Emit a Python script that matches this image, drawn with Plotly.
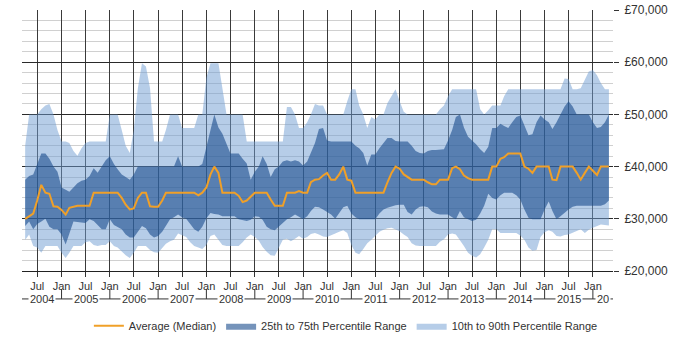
import pandas as pd
import plotly.graph_objects as go

# ---------------- data (values in £ thousands), monthly Apr 2004 .. May 2016
months = pd.date_range("2004-04-01", "2016-05-01", freq="MS")

median_k = [
    30.0, 30.5, 31.0, 33.5, 36.5, 35.0, 34.8, 32.4, 32.3, 31.7, 30.8, 32.1,
    32.3, 32.5, 32.5, 32.5, 32.5, 35, 35, 35, 35, 35, 35, 35,
    34, 32.7, 31.8, 32, 34, 35, 35, 32.4, 32.3, 32.3, 33.5, 35,
    35, 35, 35, 35, 35, 35, 35, 34.5, 35, 36, 38.5, 40,
    38.8, 35, 35, 35, 35, 34.4, 33.2, 33.5, 34.2, 35, 35, 35,
    35, 33.7, 32.5, 32.5, 32.5, 35, 35, 35, 35.3, 35, 35, 37,
    37.5, 37.6, 38.3, 38.8, 37.5, 37.5, 38.5, 40, 37.5, 37.3, 35, 35,
    35, 35, 35, 35, 35, 35, 37, 38.8, 40, 39.6, 38.5, 38,
    37.5, 37.5, 37.5, 37.5, 37, 36.6, 36.6, 37.5, 37.5, 37.5, 39.7, 40,
    39.5, 38.3, 37.8, 37.5, 37.5, 37.5, 37.5, 37.5, 40, 40, 41.5, 41.8,
    42.5, 42.5, 42.5, 42.5, 40, 39.6, 38.8, 40, 40, 40, 40, 37.5,
    37.4, 40, 40, 40, 40, 38.8, 37.5, 38.8, 40, 39.2, 38.4, 40,
    40, 40,
]

p90_k = [
    44, 50, 50, 50, 51, 51.7, 52, 50, 47, 44.8, 44.8, 44.5,
    43, 42.1, 43.5, 44.5, 44.8, 44.8, 44.8, 44.8, 44.8, 50, 50, 50,
    47, 44, 42.6, 47, 55, 59.8, 59.2, 55, 44.8, 44.8, 44.8, 47,
    50, 50, 50, 47.4, 47.4, 47.4, 47.4, 50, 50, 57, 59.8, 59.8,
    59.8, 55, 50, 50, 50, 50, 50, 44.8, 44.8, 44.8, 44.8, 44.8,
    44.8, 44.8, 44.8, 44.8, 44.8, 51.4, 51.4, 50, 47.4, 47.4, 48.5, 50,
    52, 51.7, 51.7, 50, 50, 50, 50, 50, 52.5, 54.8, 54.8, 51.7,
    50, 47.4, 49.5, 49, 50, 50, 52.2, 53.5, 54.8, 52.5, 50.5, 50,
    50, 50, 50, 50, 50, 50, 50, 51, 51.7, 53.5, 54.8, 54.8,
    54.8, 54.8, 54.8, 54.8, 54.8, 51, 50, 50.8, 51.7, 51.7, 51.7, 53.5,
    54.8, 54.8, 54.8, 54.8, 54.8, 54.8, 54.8, 54.8, 54.8, 54.8, 54.8, 54.8,
    54.8, 54.8, 56.9, 56.8, 54.8, 54.8, 55, 56.8, 58.2, 58.5, 57.5, 56,
    54.8, 54.8,
]

p75_k = [
    37.5, 38.2, 38.5, 40.5, 42.5, 42.5, 41.5, 40, 39, 36, 35.6, 35.2,
    36, 36.8, 37.3, 37.5, 38.2, 39.7, 38.8, 40, 41.2, 42, 40.5, 39.5,
    38.5, 38, 37.5, 38.5, 40, 40, 40, 40, 40, 40, 40, 40,
    40, 40, 42, 40, 40, 40, 40, 40, 40.5, 43.5, 47, 50,
    47.5, 46.3, 44.3, 42.5, 42.5, 42.5, 41.5, 40.6, 37.5, 39, 40, 42,
    40.5, 38, 39.5, 40, 41, 41.2, 41, 41.2, 41, 40.2, 41, 42.6,
    44.5, 47.2, 47.4, 45, 44.8, 44.8, 44.8, 44.8, 44.8, 44.8, 44, 43.5,
    42.6, 40.2, 42.3, 42.3, 43.5, 44.5, 45.5, 45.5, 44.9, 44.8, 44.8, 44.8,
    44, 43, 42.6, 42.5, 43, 43.2, 43.2, 43.2, 43.3, 45, 47, 49.5,
    50, 47.5, 45.7, 45, 44.3, 43.3, 42.6, 43.8, 47.4, 47.4, 48.2, 47.8,
    47.4, 48.5, 49.5, 49.8, 48, 46, 46.2, 48.5, 49.8, 49, 48.5, 47.2,
    48.5, 50, 51.5, 52.5, 51.5, 50, 50, 50, 50, 48.5, 47.4, 47.6,
    48.5, 50,
]

p25_k = [
    28.6, 29.5, 28, 29, 29.5, 30, 28.5, 28, 28, 27, 25.1, 27.3,
    29.5, 29.4, 29.3, 29.2, 29.9, 29.6, 28.8, 28, 28, 29.9, 28.8, 28.4,
    28, 27, 26.4, 26.4, 27.5, 28.6, 28.2, 27, 26.4, 26.7, 27.5, 28.6,
    29.9, 30.3, 30.8, 30.3, 30, 29, 28, 27.5, 28.5, 30.1, 31.1, 30.9,
    30.8, 30.5, 30.5, 30.5, 30.5, 29.9, 29.7, 29.6, 29.8, 30.5, 30.4, 29.8,
    28.5, 28, 27.8, 28.5, 29.2, 29.9, 30.3, 30.8, 30.4, 29.9, 30.5, 31.5,
    32.3, 32.2, 31.8, 31.3, 30.8, 30, 31, 32.2, 32.5, 31, 30.3, 29.9,
    29.9, 29.9, 29.9, 29.9, 31, 31.8, 32.1, 32.4, 32.6, 32.7, 32.7, 31.3,
    30.8, 31.8, 32.3, 32.4, 32.2, 31.4, 31, 30.8, 30.8, 30.8, 30.3, 29.9,
    31.5, 30.3, 29.9, 29.6, 29.8, 31, 32.5, 34.8, 34, 33.7, 34.5, 35,
    35, 35, 34.5, 33.7, 31.8, 30.2, 29.9, 29.9, 29.9, 31.8, 33.3, 31.5,
    29.9, 30.5, 31.2, 31.8, 32.3, 32.5, 32.5, 32.5, 32.5, 32.5, 32.5, 32.5,
    32.8, 33.5,
]

p10_k = [
    26, 27, 24.8, 24.5, 23.5, 24.8, 24.8, 24.8, 24.8, 23.5, 22.5, 23.5,
    24.8, 24.8, 24.8, 25.5, 25.7, 25, 24.8, 25, 25, 25.7, 24.8, 24.5,
    23.8, 23, 22.5, 23.5, 24.8, 24.8, 24.8, 24, 23.6, 23.5, 24.5, 25.2,
    25.7, 26, 27.2, 26.8, 26.5, 25.5, 24.8, 24.5, 24.2, 25, 26.7, 27,
    26, 25, 24.8, 24.8, 24.8, 24.8, 25.5, 26.4, 27, 26.5, 25.8, 24.6,
    23.7, 23, 22.9, 24.5, 26, 26.2, 25.7, 26.2, 26.7, 26.2, 26.5, 27.1,
    27.3, 27, 26.6, 26.5, 26.9, 27.2, 27.5, 27.8, 27.3, 25, 23.5, 23.2,
    24.2, 25.3, 26, 26.8, 27.5, 27.9, 28.2, 28.3, 28, 27.6, 27, 26.5,
    25.3, 24.9, 24.8, 24.8, 24.8, 24.8, 24.8, 25.6, 26.1, 27, 27.2, 27,
    26, 24.8, 23.5, 22.9, 22.6, 23.2, 24.5, 26, 28, 28, 27.3, 27.3,
    27.3, 27.3, 27.3, 26.8, 26, 24.5, 23.9, 24, 26.5, 27.4, 27.8, 27.5,
    26.7, 26.6, 26.9, 27, 27.3, 27.6, 28, 27.3, 27.9, 28.3, 28.6, 28.9,
    28.8, 28.7,
]

x_tick_dates = pd.date_range("2004-07-01", "2016-01-01", freq="6MS")
x_tick_text = ["Jul" if d.month == 7 else "Jan" for d in x_tick_dates]
y_tick_vals = [20000, 30000, 40000, 50000, 60000, 70000]
y_tick_text = ["£20,000", "£30,000", "£40,000", "£50,000", "£60,000", "£70,000"]
y_minor_vals = [v for v in range(22000, 70000, 2000) if v % 10000]
years = list(range(2004, 2017))
year_text = [str(y) for y in years[:-1]] + ["20"]

x_range = [pd.Timestamp("2004-03-08"), pd.Timestamp("2016-06-01")]

def k(vals):
    return [v * 1000 for v in vals]

FONT = "Liberation Sans, Arial, sans-serif"
TXT = "#333333"
DARK = "#333333"

fig = go.Figure()
fig.add_trace(go.Scatter(x=months, y=k(p10_k), mode="lines", line=dict(width=0),
                         showlegend=False, hoverinfo="skip"))
fig.add_trace(go.Scatter(x=months, y=k(p90_k), mode="lines", line=dict(width=0),
                         fill="tonexty", fillcolor="rgba(110,155,210,0.5)",
                         name="10th to 90th Percentile Range", legendrank=3))
fig.add_trace(go.Scatter(x=months, y=k(p25_k), mode="lines", line=dict(width=0),
                         showlegend=False, hoverinfo="skip"))
fig.add_trace(go.Scatter(x=months, y=k(p75_k), mode="lines", line=dict(width=0),
                         fill="tonexty", fillcolor="rgba(25,75,140,0.6)",
                         name="25th to 75th Percentile Range", legendrank=2))
fig.add_trace(go.Scatter(x=months, y=k(median_k), mode="lines",
                         line=dict(color="#f0a028", width=2),
                         name="Average (Median)", legendrank=1))

# second-level (year) axis row
row_y = -0.107
div_top = -0.069
shapes = [dict(type="line", xref="paper", yref="paper", x0=0, x1=1, y0=row_y, y1=row_y,
               line=dict(color=DARK, width=1), layer="above")]
annotations = []
for i, y in enumerate(years):
    start = max(pd.Timestamp(f"{y}-01-01"), x_range[0])
    end = min(pd.Timestamp(f"{y + 1}-01-01"), x_range[1])
    mid = start + (end - start) / 2
    annotations.append(dict(x=mid, y=row_y, xref="x", yref="paper", text=year_text[i],
                            showarrow=False, xanchor="center", yanchor="middle",
                            bgcolor="white", borderpad=1,
                            font=dict(family=FONT, size=11, color=TXT)))
    if y > 2004:
        jan = pd.Timestamp(f"{y}-01-01")
        shapes.append(dict(type="line", xref="x", yref="paper", x0=jan, x1=jan,
                           y0=div_top, y1=row_y, line=dict(color=DARK, width=1)))

fig.update_layout(
    width=700, height=350,
    margin=dict(l=22, r=87, t=10, b=79, autoexpand=False),
    paper_bgcolor="white", plot_bgcolor="white",
    font=dict(family=FONT, size=11, color=TXT),
    showlegend=True,
    legend=dict(orientation="h", x=0.548, xanchor="center", y=-0.21, yanchor="middle",
                font=dict(family=FONT, size=11, color=TXT), traceorder="normal",
                itemwidth=30, bgcolor="rgba(0,0,0,0)"),
    shapes=shapes,
    annotations=annotations,
    xaxis=dict(type="date", range=x_range, tickmode="array", tickvals=x_tick_dates,
               ticktext=x_tick_text, ticks="outside", ticklen=5, tickcolor=DARK,
               showgrid=True, gridcolor="#3a3a3a", gridwidth=1, automargin=False,
               showline=True, linecolor="#222222", linewidth=1, zeroline=False,
               tickfont=dict(family=FONT, size=11, color=TXT)),
    yaxis=dict(side="right", range=[20000, 70000], tickmode="array",
               tickvals=y_tick_vals, ticktext=y_tick_text, automargin=False,
               ticks="outside", ticklen=5, tickcolor=DARK, ticklabelstandoff=3,
               showgrid=True, gridcolor="#2a2a2a", gridwidth=1,
               minor=dict(tickmode="array", tickvals=y_minor_vals, showgrid=True,
                          gridcolor="#d0d0d0", gridwidth=1, ticks=""),
               showline=False, zeroline=False,
               tickfont=dict(family=FONT, size=12, color=TXT)),
)

fig.write_html("out.html")
